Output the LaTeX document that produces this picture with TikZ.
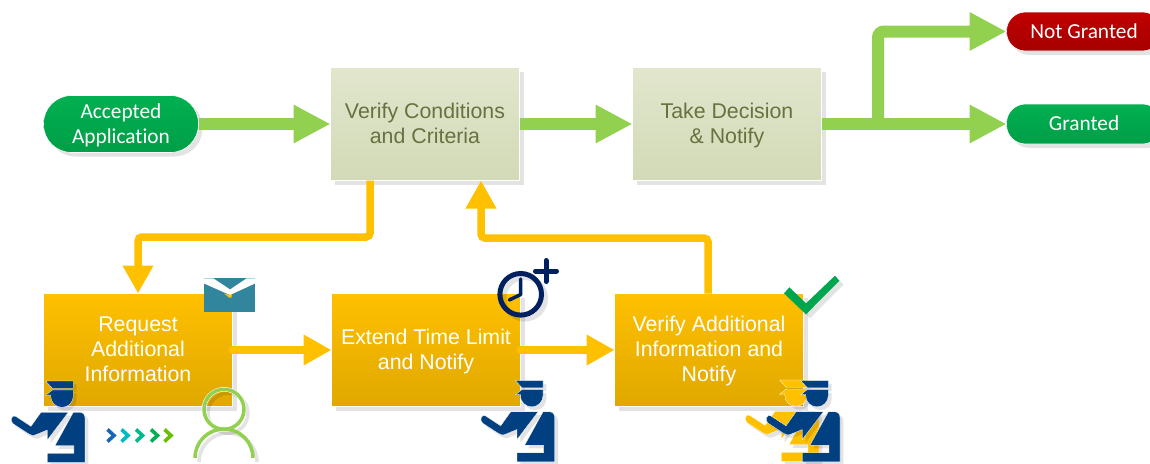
\documentclass[tikz,border=0pt]{standalone}
\usepackage{fontspec}
\setmainfont{Liberation Sans}
\newfontfamily\pillfont[Ligatures=NoCommon]{Carlito}
\usetikzlibrary{arrows.meta,shadows,calc}
\definecolor{garrowc}{HTML}{92D050}
\definecolor{oarrowc}{HTML}{FFC000}
\definecolor{navyc}{HTML}{003F80}
\definecolor{clockc}{HTML}{002060}
\definecolor{tealc}{HTML}{31859C}
\definecolor{checkc}{HTML}{00A550}
\definecolor{oliveT}{HTML}{667240}
\definecolor{gtop}{HTML}{00B050}
\definecolor{gbot}{HTML}{009E48}
\definecolor{rtop}{HTML}{C00000}
\definecolor{rbot}{HTML}{A60000}
\definecolor{ptop}{HTML}{E1E6CD}
\definecolor{pbot}{HTML}{D2DAB6}
\definecolor{otop}{HTML}{FFC000}
\definecolor{obot}{HTML}{E0A800}
\definecolor{chA}{HTML}{1565B8}
\definecolor{chB}{HTML}{00BBC4}
\definecolor{chC}{HTML}{00B88A}
\definecolor{chD}{HTML}{00B050}
\definecolor{chE}{HTML}{66C000}
\newcommand{\lastline}[1]{\raisebox{0pt}[0pt][1.6pt]{#1}}
\tikzset{
  softshadow/.style={drop shadow={shadow xshift=4pt,shadow yshift=-4pt,fill=black,opacity=.11}},
  pillbox/.style={draw=white,line width=.6pt,inner sep=0pt,outer sep=0pt,minimum width=155pt,align=center,text=white,softshadow,
    font=\pillfont\fontsize{21.33}{25}\selectfont},
  greenpill/.style={pillbox,top color=gtop,bottom color=gbot},
  redpill/.style={pillbox,top color=rtop,bottom color=rbot},
  stagebox/.style={draw=white,line width=.6pt,inner sep=0pt,outer sep=0pt,minimum width=189pt,minimum height=113pt,align=center,softshadow,
    font=\fontsize{21.33}{25}\selectfont},
  palebox/.style={stagebox,text=oliveT,top color=ptop,bottom color=pbot},
  goldbox/.style={stagebox,text=white,top color=otop,bottom color=obot},
  garrow/.style={draw=garrowc,line width=12pt,-{Triangle[length=37pt,width=36pt]}},
  oarrow/.style={draw=oarrowc,line width=7.5pt,-{Triangle[length=28pt,width=29pt]}},
  iconshadow/.style={black,opacity=.11},
  chevron/.style={line width=3.6pt,miter limit=10},
}
% officer: local units are 1/3 px, so the shapes read as in a 3x crop
\newcommand{\officerbody}{%
  (122,18) -- (205,18) -- (205,40) -- (142,40) -- cycle
  (142,45) -- (205,45) -- (205,63) arc[start angle=0,end angle=180,x radius=34,y radius=34] -- (137,60) -- (122,61) -- cycle
  (32,124) -- (78,154) -- (108,112) -- (190,112) -- (127,195) -- (127,165) -- (95,178)
     .. controls (85,184) and (75,180) .. (70,176) -- (24,146) .. controls (12,136) and (22,118) .. (32,124) -- cycle
  (205,112) -- (225,112) .. controls (235,112) and (240,120) .. (240,130) -- (240,262) -- (127,262) -- (127,235)
     -- (207,235) -- (207,212) -- (150,212) -- cycle
}
\newcommand{\officer}[3]{%
  \begin{scope}[shift={(#1,#2)},x=.3333pt,y=-.3333pt]
    \fill[iconshadow,shift={(10,10)}] \officerbody;
    \filldraw[fill=#3,draw=white,line width=.3pt] \officerbody;
  \end{scope}}
\begin{document}
\begin{tikzpicture}[x=1pt,y=-1pt]
\clip (0,0) rectangle (1150,463);
% nodes
\node[greenpill,minimum height=57pt,rounded corners=28pt] (acc) at (121,124) {Accepted\\\lastline{Application}};
\node[palebox] (ver) at (425,124) {Verify Conditions\\\lastline{and Criteria}};
\node[palebox] (dec) at (727,124) {Take Decision\\\lastline{\& Notify}};
\node[redpill,minimum height=39pt,rounded corners=19pt] (ng) at (1084,31.5) {Not Granted};
\node[greenpill,minimum height=40pt,rounded corners=19pt] (gr) at (1084,124) {Granted\rule[-1.6pt]{0pt}{1pt}};
\node[goldbox] (req) at (138,350) {Request\\Additional\\\lastline{Information}};
\node[goldbox] (ext) at (426,350) {Extend Time Limit\\\lastline{and Notify}};
\node[goldbox] (vai) at (709,350) {Verify Additional\\Information and\\\lastline{Notify}};
% connectors
\coordinate (br) at (878,124);
\coordinate (m1) at (370,237);
\coordinate (m2) at (708,238);
\draw[garrow] (acc.east) -- (ver.west);
\draw[garrow] (ver.east) -- (dec.west);
\draw[garrow] (dec.east) -- (gr.west);
\draw[garrow,rounded corners=6pt] (br) |- (ng.west);
\draw[oarrow,rounded corners=4pt] ($(ver.south)+(-55,0)$) -- (m1) -| (req.north);
\draw[oarrow,line cap=round] (req.east) -- (ext.west);
\draw[oarrow,line cap=round] (ext.east) -- (vai.west);
\draw[oarrow,rounded corners=4pt] (m2 |- vai.north) -- (m2) -| ($(ver.south)+(56,0)$);
% envelope
\fill[tealc] (204,278.3) rectangle (255,312.3);
\fill[white] (204,278.3) -- (213.3,278.3) -- (230,289.5) -- (246.7,278.3) -- (255,278.3) -- (255,283.5) -- (230,295) -- (204,283.5) -- cycle;
\fill[oarrowc] (224,293.5) -- (230,295) -- (232,293.5) -- (231.5,297.5) -- (229,297.5) -- cycle;
% clock
\draw[iconshadow,line width=5pt] (524.7,298.3) circle[radius=20.8];
\draw[clockc,line width=5pt] (520.7,294.3) circle[radius=20.8];
\draw[clockc,line width=3.5pt,line cap=round,line join=round] (520.7,279) -- (520.7,294.5) -- (509.3,300);
\draw[clockc,line width=5pt,line cap=round] (535.5,271) -- (556.5,271) (546,260.5) -- (546,281.5);
% check
\fill[iconshadow] (788,297.3) -- (793.3,291.3) -- (810,307.3) -- (839,279.7) -- (843.3,284.7) -- (810,318.3) -- cycle;
\fill[checkc] (784,293.3) -- (789.3,287.3) -- (806,303.3) -- (835,275.7) -- (839.3,280.7) -- (806,314.3) -- cycle;
% officers
\officer{5}{375}{navyc}
\officer{474.7}{374.5}{navyc}
\officer{739}{374}{oarrowc}
\officer{760}{374.5}{navyc}
% chevrons
\draw[chevron,draw=chA] (107.5,429.5) -- (114,435.5) -- (107.5,441.5);
\draw[chevron,draw=chB] (121.5,429.5) -- (128,435.5) -- (121.5,441.5);
\draw[chevron,draw=chC] (136,429.5) -- (142.5,435.5) -- (136,441.5);
\draw[chevron,draw=chD] (151,429.5) -- (157.5,435.5) -- (151,441.5);
\draw[chevron,draw=chE] (164.5,429.5) -- (171,435.5) -- (164.5,441.5);
% person
\draw[iconshadow,line width=3.5pt] (228,413.3) circle[radius=20];
\draw[iconshadow,line width=3.5pt] (199,462) arc[start angle=180,end angle=360,x radius=29,y radius=29];
\draw[white,line width=4.5pt] (224,409.3) circle[radius=20];
\draw[garrowc,line width=3.5pt] (224,409.3) circle[radius=20];
\draw[garrowc,line width=3.5pt] (195,458) arc[start angle=180,end angle=360,x radius=29,y radius=29];
\end{tikzpicture}
\end{document}
